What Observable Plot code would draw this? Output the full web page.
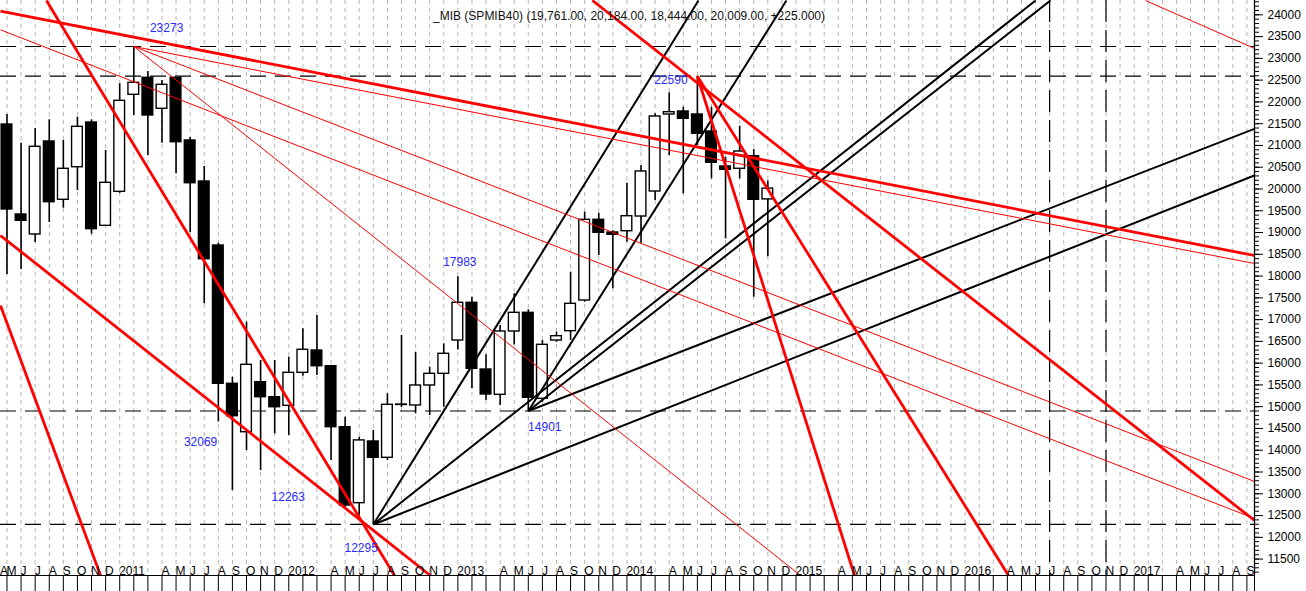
<!DOCTYPE html>
<html><head><meta charset="utf-8">
<script src="https://cdn.jsdelivr.net/npm/d3@7"></script>
<script src="https://cdn.jsdelivr.net/npm/@observablehq/plot@0.6"></script>
<style>
html,body{margin:0;padding:0;background:#fff;}
#chart{width:1306px;height:591px;overflow:hidden;}
</style></head><body><div id="chart"></div>
<script>
// ---------- DATA ----------
const startYear = 2010, startMonth = 4; // first candle: May 2010 (0-based month)
const open  = [21481,19414,18955,21091,19752,20500,21527,19154,19935,22163,22554,21842,22554,21114,20172,18702,15526,14414,15563,15218,15020,15778,16290,15930,14529,12784,14201,13826,15050,15028,15487,15755,16520,17386,15854,15273,16727,17156,15181,16520,16734,17439,19292,19001,19030,19368,19942,21711,21780,21711,21320,20517,20464,20753,19761];
const high  = [21711,21052,21389,21589,21114,21649,21589,20884,22416,23273,22698,22491,22554,21180,20517,18755,15677,16941,16061,16061,16137,16789,17094,15946,14758,14300,14453,15296,16635,16251,15907,16444,17983,17515,16192,16865,17593,17225,16520,16711,18089,19467,19444,19040,20133,20540,21727,22209,21878,22590,21878,20730,21442,20907,20184];
const low   = [18036,18151,18771,19230,19559,19965,18962,19145,19900,21688,20769,21052,20349,19001,17363,14650,13075,13994,13535,14377,14338,15700,15716,13764,12692,12501,12295,13764,14980,14837,14797,14988,16300,15411,15142,15028,16421,14901,15100,16481,16520,17400,18473,17708,18778,18755,19736,20769,19889,21000,20234,18856,20234,17514,18444];
const close = [19529,19269,20969,19697,20464,21428,19077,20142,22025,22439,21688,22393,21075,20133,18387,15526,14782,15962,15218,14988,15778,16307,15930,14529,12731,14226,13826,15043,15040,15487,15755,16215,17386,15870,15280,16727,17156,15204,16421,16619,17363,19292,18994,18948,19375,20402,21665,21764,21612,21268,20602,20441,20861,19752,20009];

const monthLetters = ["J","F","M","A","M","J","J","A","S","O","N","D"];
const yTickValues = [11500,12000,12500,13000,13500,14000,14500,15000,15500,16000,16500,17000,17500,18000,18500,19000,19500,20000,20500,21000,21500,22000,22500,23000,23500,24000];

const levelPrices = [23273, 22590, 14901, 12295];       // horizontal dashed levels
const markerMonths = ["2016-07", "2016-11"];            // vertical dashed time markers

// trend lines: [month index 1, price 1, month index 2, price 2]
const redThick = [
  [-0.46, 24083, 88.54, 18472],
  [2.80, 24329, 27.50, 11123],
  [-0.46, 18932, 30.05, 11123],
  [-0.46, 17324, 6.64, 11123],
  [41.55, 24329, 88.54, 12386],
  [49, 22590, 60.15, 11123],
  [49, 22590, 71.08, 11123]
];
const redThin = [
  [9, 23273, 88.54, 18289],
  [9, 23273, 88.54, 13282],
  [9, 23273, 56.32, 11123],
  [-0.46, 23656, 88.54, 12432],
  [80.8, 24329, 88.54, 23227]
];
const blackLines = [
  [26, 12295, 49.08, 24329],
  [26, 12295, 73.0, 24329],
  [26, 12295, 88.54, 20310],
  [37, 14901, 55.32, 24329],
  [37, 14901, 74.06, 24329],
  [37, 14901, 88.54, 21382]
];

const pivotLabels = ["23273","22590","17983","32069","12263","12295","14901"];
const pivotLabelMonth = [11.33, 47.12, 32.14, 13.74, 19.96, 25.14, 38.17];
const pivotLabelPrice = [23686, 22492, 18312, 14178, 12915, 11743, 14522];

const titleText = "_MIB (SPMIB40) (19,761.00, 20,184.00, 18,444.00, 20,009.00, +225.000)";

// ---------- BUILD ----------
const candles = open.map((o, k) => ({k, o, h: high[k], l: low[k], c: close[k]}));
const xDomain = [-0.46, 88.54];
const yDomain = [11123, 24329];
const monthIdx = d3.range(-1, 89);
const monthLabel = k => {
  const t = startMonth + k, m = ((t % 12) + 12) % 12, y = startYear + Math.floor(t / 12);
  return m === 0 ? String(y) : (m === 1 || m === 2) ? "" : monthLetters[m];
};
const idxOf = s => { const [y, m] = s.split("-").map(Number); return (y - startYear) * 12 + (m - 1) - startMonth; };
const toLinks = arr => arr.map(([a, b, c, d]) => ({x1: a, y1: b, x2: c, y2: d}));
const pivots = pivotLabels.map((t, j) => ({t, x: pivotLabelMonth[j], y: pivotLabelPrice[j]}));
const font = "'Liberation Sans', Arial, sans-serif";
// the partly hidden first label is pinned to the frame's left edge so it stays whole
const labelX = k => Math.max(k, xDomain[0]);
const labelDx = k => (k < xDomain[0] ? 0 : 2.5);

const chart = Plot.plot({
  width: 1306, height: 591,
  marginLeft: 0, marginRight: 52, marginTop: 0, marginBottom: 16,
  style: {fontFamily: font, fontSize: "12px", background: "#fff", color: "#000"},
  x: {type: "linear", domain: xDomain, axis: null},
  y: {type: "linear", domain: yDomain},
  marks: [
    Plot.ruleX(d3.range(0, 89), {x: d => d, stroke: "#b4b4b4", strokeWidth: 1, strokeDasharray: "4,4"}),
    Plot.ruleY(levelPrices, {stroke: "#000", strokeWidth: 1.2, strokeDasharray: "16,9"}),
    Plot.ruleX(markerMonths.map(idxOf), {x: d => d, stroke: "#000", strokeWidth: 1.2, strokeDasharray: "22,8"}),
    Plot.ruleX(candles, {x: "k", y1: "l", y2: "h", stroke: "#000", strokeWidth: 1.6}),
    Plot.rect(candles, {x1: d => d.k - 0.38, x2: d => d.k + 0.38, y1: "o", y2: "c",
      fill: d => d.c >= d.o ? "#fff" : "#000", stroke: "#000", strokeWidth: 1.4}),
    Plot.link(toLinks(blackLines), {x1: "x1", y1: "y1", x2: "x2", y2: "y2", stroke: "#000", strokeWidth: 2, clip: true}),
    Plot.link(toLinks(redThin), {x1: "x1", y1: "y1", x2: "x2", y2: "y2", stroke: "#ff0000", strokeWidth: 1, clip: true}),
    Plot.link(toLinks(redThick), {x1: "x1", y1: "y1", x2: "x2", y2: "y2", stroke: "#ff0000", strokeWidth: 2.8, clip: true}),
    Plot.text(pivots, {x: "x", y: "y", text: "t", fill: "#2a2aff", fontSize: 12}),
    Plot.text([titleText], {text: d => d, frameAnchor: "top", dy: 11, dx: 1.5, fill: "#111", fontSize: 12}),
    // frame lines
    Plot.ruleY([yDomain[0]], {stroke: "#000", strokeWidth: 1}),
    Plot.ruleX([xDomain[1]], {stroke: "#000", strokeWidth: 1.3}),
    // x axis row: separators + month labels
    Plot.axisX(monthIdx.concat([xDomain[1]]), {tickSize: 16, tickFormat: () => "", stroke: "#000", strokeWidth: 1}),
    Plot.text(monthIdx, {x: labelX, text: monthLabel, frameAnchor: "bottom", dy: 9, dx: labelDx, textAnchor: "start", fill: "#000", fontSize: 12}),
    // y axis (right)
    Plot.axisY(d3.range(11200, 24400, 100), {anchor: "right", tickSize: 4, tickFormat: () => "", strokeWidth: 1}),
    Plot.axisY(yTickValues, {anchor: "right", tickSize: 8, tickPadding: 5, tickFormat: d => String(d), fontSize: 12, fill: "#000", strokeWidth: 1})
  ]
});
document.getElementById("chart").appendChild(chart);
</script></body></html>
